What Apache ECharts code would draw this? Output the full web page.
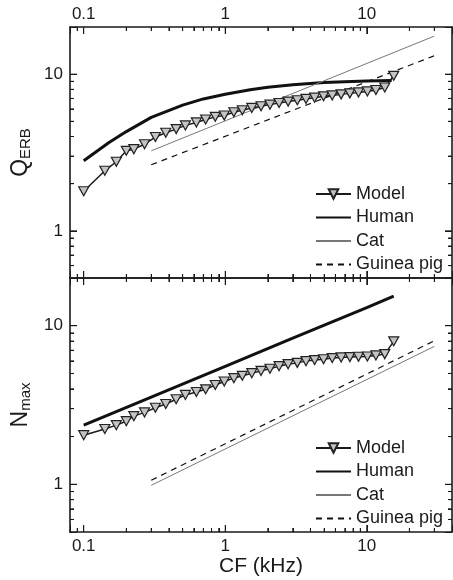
<!DOCTYPE html>
<html>
<head>
<meta charset="utf-8">
<script src="https://cdn.jsdelivr.net/npm/echarts@6/dist/echarts.min.js"></script>
<style>
  html, body { margin: 0; padding: 0; background: #fff; }
  #chart { width: 453px; height: 580px; }
</style>
</head>
<body>
<div id="chart"></div>
<script>
// characteristic frequencies of the model points (kHz)
var modelCF = [0.1, 0.141, 0.17, 0.2, 0.226, 0.269, 0.321, 0.38, 0.45, 0.523, 0.625,
  0.727, 0.85, 0.984, 1.15, 1.32, 1.54, 1.79, 2.07, 2.4, 2.78, 3.23, 3.72, 4.28,
  4.95, 5.7, 6.59, 7.59, 8.74, 10.1, 11.6, 13.4, 15.5];
var modelQ = [1.79, 2.42, 2.76, 3.24, 3.32, 3.57, 3.97, 4.23, 4.46, 4.71, 4.92,
  5.14, 5.34, 5.45, 5.71, 5.88, 6.09, 6.24, 6.39, 6.55, 6.68, 6.81, 6.95, 7.08,
  7.22, 7.32, 7.43, 7.54, 7.65, 7.76, 7.92, 8.22, 9.76];
var modelN = [2.04, 2.23, 2.36, 2.5, 2.69, 2.84, 3.04, 3.21, 3.44, 3.66, 3.82,
  3.97, 4.23, 4.45, 4.67, 4.83, 5.02, 5.19, 5.35, 5.56, 5.72, 5.83, 5.98, 6.07,
  6.15, 6.25, 6.31, 6.34, 6.37, 6.4, 6.5, 6.62, 7.97];

// human curves
var humanQCF = [0.1, 0.15, 0.2, 0.3, 0.5, 0.7, 1, 1.5, 2, 3, 5, 7, 10, 15];
var humanQ = [2.8, 3.65, 4.3, 5.3, 6.35, 6.95, 7.45, 7.95, 8.25, 8.55, 8.85, 8.95, 9.05, 9.1];
var humanNCF = [0.1, 0.3, 1, 3, 10, 15.5];
var humanN = [2.36, 3.55, 5.55, 8.34, 13.0, 15.35];

// cat and guinea pig fits (straight in log-log)
var animalCF = [0.3, 30];
var catQ = [3.24, 17.5];
var gpQ = [2.64, 13.1];
var catN = [0.985, 7.41];
var gpN = [1.06, 8.04];

var legendNames = ["Model", "Human", "Cat", "Guinea pig"];

// tick marks (major ones get labels)
var xMajor = [0.1, 1, 10];
var xMinor = [0.09, 0.2, 0.3, 0.4, 0.5, 0.6, 0.7, 0.8, 0.9,
  2, 3, 4, 5, 6, 7, 8, 9, 20, 30];
var yMajor = [1, 10];
var yMinor = [0.6, 0.7, 0.8, 0.9, 2, 3, 4, 5, 6, 7, 8, 9];

var xMin = 0.08, xMax = 40, yMin = 0.5, yMax = 20;
var majorLen = 7, minorLen = 4;

// panel layout (px)
var gridLeft = 70, gridRight = 1, chartW = 453;
var panels = [{ top: 27, height: 251 }, { top: 278, height: 254 }];

function pairs(xs, ys) {
  return xs.map(function (x, i) { return [x, ys[i]]; });
}

var font = "Liberation Sans, Arial, Helvetica, sans-serif";
var ink = "#1a1a1a";

function tickLabel(v) {
  var l = Math.log10(v);
  if (Math.abs(l - Math.round(l)) > 1e-6) return "";
  return String(+v.toPrecision(3));
}

function logAxis(opt) {
  var ax = {
    type: "log",
    gridIndex: opt.grid,
    position: opt.position,
    min: opt.min,
    max: opt.max,
    axisLine: { lineStyle: { color: ink, width: 1.6 } },
    axisTick: { show: true, inside: true, length: majorLen, lineStyle: { color: ink, width: 1 } },
    minorTick: { show: true, splitNumber: 9, length: minorLen, lineStyle: { color: ink, width: 1 } },
    splitLine: { show: false },
    axisLabel: {
      show: !!opt.labels,
      formatter: tickLabel,
      fontSize: 17,
      fontFamily: font,
      color: ink,
      margin: opt.margin || 6,
      showMinLabel: false,
      showMaxLabel: false,
    },
  };
  if (opt.name) {
    ax.name = opt.name;
    ax.nameLocation = "middle";
    ax.nameGap = opt.nameGap;
    ax.nameTextStyle = opt.nameTextStyle;
  }
  return ax;
}

// inward tick marks as short line segments; a tick of n px spans
// n * (decades per px) on the log axis it runs along
function tickSeries(idx) {
  var decY = Math.log10(yMax / yMin) / panels[idx === 0 ? 0 : 1].height;
  var decX = Math.log10(xMax / xMin) / (chartW - gridLeft - gridRight);
  var data = [];
  function seg(a, b) { data.push(a, b, ["-", "-"]); }
  function addX(vals, len) {
    var f = Math.pow(10, len * decY);
    vals.forEach(function (v) {
      seg([v, yMin], [v, yMin * f]);
      seg([v, yMax], [v, yMax / f]);
    });
  }
  function addY(vals, len) {
    var f = Math.pow(10, len * decX);
    vals.forEach(function (v) {
      seg([xMin, v], [xMin * f, v]);
      seg([xMax, v], [xMax / f, v]);
    });
  }
  addX(xMajor, majorLen);
  addX(xMinor, minorLen);
  addY(yMajor, majorLen);
  addY(yMinor, minorLen);
  return {
    type: "line",
    xAxisIndex: idx,
    yAxisIndex: idx,
    data: data,
    symbol: "none",
    showSymbol: false,
    connectNulls: false,
    clip: false,
    silent: true,
    lineStyle: { color: ink, width: 1 },
    emphasis: { disabled: true },
    z: 3,
  };
}

var yNameStyle = {
  fontFamily: font,
  color: ink,
  rich: {
    a: { fontSize: 23, lineHeight: 26, fontFamily: font, color: ink },
    b: { fontSize: 15, lineHeight: 8, verticalAlign: "bottom", fontFamily: font, color: ink },
  },
};

var modelStyle = {
  type: "line",
  symbol: "triangle",
  symbolRotate: 180,
  symbolSize: [10, 9],
  showAllSymbol: true,
  lineStyle: { color: ink, width: 1.5 },
  itemStyle: { color: "#c4c4c4", borderColor: "#222", borderWidth: 1.2 },
  z: 5,
};

function mk(base, extra) {
  return Object.assign({}, base, extra);
}

var humanStyle = { type: "line", symbol: "none", lineStyle: { color: "#111", width: 3 }, itemStyle: { color: "#111" } };
var catStyle = { type: "line", symbol: "none", lineStyle: { color: "#777", width: 1 }, itemStyle: { color: "#777" } };
var gpStyle = { type: "line", symbol: "none", lineStyle: { color: "#111", width: 1.2, type: [6, 5] }, itemStyle: { color: "#111" } };

var chart = echarts.init(document.getElementById("chart"));

// plain line icons for the curves without markers
var legendData = legendNames.map(function (n) {
  return n === "Model" ? { name: n } : { name: n, itemStyle: { opacity: 0 } };
});

var legendBase = {
  orient: "vertical",
  left: 310,
  itemWidth: 35,
  itemHeight: 12,
  itemGap: 5.5,
  data: legendData,
  selectedMode: false,
  textStyle: { fontSize: 18, lineHeight: 18, fontFamily: font, color: ink },
};

var option = {
  animation: false,
  grid: panels.map(function (p) {
    return { left: gridLeft, right: gridRight, top: p.top, height: p.height, outerBoundsMode: "none" };
  }),
  xAxis: [
    logAxis({ grid: 0, position: "bottom", min: xMin, max: xMax }),
    logAxis({ grid: 0, position: "top", min: xMin, max: xMax, labels: true, margin: 4 }),
    logAxis({
      grid: 1, position: "bottom", min: xMin, max: xMax, labels: true, margin: 6,
      name: "CF (kHz)", nameGap: 21,
      nameTextStyle: { fontSize: 21, fontFamily: font, color: ink },
    }),
    logAxis({ grid: 1, position: "top", min: xMin, max: xMax }),
  ],
  yAxis: [
    logAxis({
      grid: 0, position: "left", min: yMin, max: yMax, labels: true, margin: 7,
      name: "{a|Q}{b|ERB}", nameGap: 36, nameTextStyle: yNameStyle,
    }),
    logAxis({ grid: 0, position: "right", min: yMin, max: yMax }),
    logAxis({
      grid: 1, position: "left", min: yMin, max: yMax, labels: true, margin: 7,
      name: "{a|N}{b|max}", nameGap: 36, nameTextStyle: yNameStyle,
    }),
    logAxis({ grid: 1, position: "right", min: yMin, max: yMax }),
  ],
  legend: [
    mk(legendBase, { top: 180 }),
    mk(legendBase, { top: 434 }),
  ],
  series: [
    mk(humanStyle, { name: "Human", xAxisIndex: 0, yAxisIndex: 0, data: pairs(humanQCF, humanQ) }),
    mk(catStyle, { name: "Cat", xAxisIndex: 0, yAxisIndex: 0, data: pairs(animalCF, catQ) }),
    mk(gpStyle, { name: "Guinea pig", xAxisIndex: 0, yAxisIndex: 0, data: pairs(animalCF, gpQ) }),
    mk(modelStyle, { name: "Model", xAxisIndex: 0, yAxisIndex: 0, data: pairs(modelCF, modelQ) }),

    mk(humanStyle, { name: "Human", xAxisIndex: 2, yAxisIndex: 2, data: pairs(humanNCF, humanN) }),
    mk(catStyle, { name: "Cat", xAxisIndex: 2, yAxisIndex: 2, data: pairs(animalCF, catN) }),
    mk(gpStyle, { name: "Guinea pig", xAxisIndex: 2, yAxisIndex: 2, data: pairs(animalCF, gpN) }),
    mk(modelStyle, { name: "Model", xAxisIndex: 2, yAxisIndex: 2, data: pairs(modelCF, modelN) }),

    tickSeries(0),
    tickSeries(2),
  ],
};

chart.setOption(option);
</script>
</body>
</html>
